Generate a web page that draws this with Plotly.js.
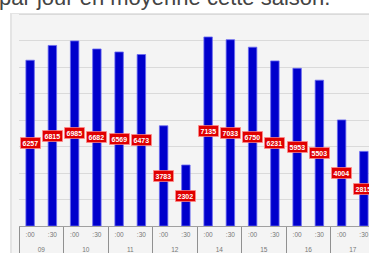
<!DOCTYPE html>
<html>
<head>
<meta charset="utf-8">
<script src="https://cdn.plot.ly/plotly-3.0.1.min.js"></script>
<style>
  html, body { margin:0; padding:0; background:#ffffff; width:369px; height:253px; overflow:hidden; position:relative; }
  #title { position:absolute; left:-1px; top:-13px; font-family:"Liberation Sans", Arial, sans-serif; font-size:22px; line-height:22px; color:#444; white-space:nowrap; }
  #box { position:absolute; left:10px; top:13px; width:400px; height:300px; background:#f4f4f4; border-left:2px solid #e4e4e4; border-top:1px solid #e4e4e4; }
  #chart { position:absolute; left:0; top:0; width:400px; height:280px; }
</style>
</head>
<body>
<div id="title">par jour en moyenne cette saison.</div>
<div id="box"></div>
<div id="chart"></div>
<script>
const hours   = ['09','09','10','10','11','11','12','12','14','14','15','15','16','16','17','17'];
const minutes = [':00',':30',':00',':30',':00',':30',':00',':30',':00',':30',':00',':30',':00',':30',':00',':30'];
const values  = [6257,6815,6985,6682,6569,6473,3783,2302,7135,7033,6750,6231,5953,5503,4004,2815];

// inner tick labels get an empty second line so the hour row sits lower
const innerLabels = minutes.map(m => m + '<br>&nbsp;');

const trace = {
  type:'bar',
  x:[hours, innerLabels],
  y:values,
  marker:{color:'#0000cc', line:{color:'#6a6af0', width:0.8}},
  hoverinfo:'skip'
};

const annotations = values.map((v,i)=>({
  x:i, y:v/2, xref:'x', yref:'y',
  text:String(v), showarrow:false,
  font:{family:'Liberation Sans, Arial, sans-serif', size:7, color:'#ffffff', weight:'bold'},
  bgcolor:'#e00000', bordercolor:'rgba(255,140,140,0.7)', borderwidth:1, borderpad:1.5
}));

const layout = {
  width:400, height:280,
  margin:{l:19, r:25, t:13, b:54},
  paper_bgcolor:'rgba(0,0,0,0)',
  plot_bgcolor:'rgba(0,0,0,0)',
  showlegend:false,
  bargap:0.62,
  xaxis:{
    type:'multicategory',
    showline:true, linecolor:'#a0a0a0', linewidth:1,
    showgrid:false, ticks:'',
    ticklabelstandoff:2,
    showdividers:true, dividercolor:'#909090', dividerwidth:1,
    tickfont:{family:'Liberation Sans, Arial, sans-serif', size:6.5, color:'#777'}
  },
  yaxis:{
    range:[0,8040], dtick:1000, showticklabels:false,
    showgrid:true, gridcolor:'#dadada', gridwidth:1,
    zeroline:false, showline:false, ticks:''
  },
  annotations:annotations
};

Plotly.newPlot('chart',[trace],layout,{staticPlot:true, displayModeBar:false});
</script>
</body>
</html>
